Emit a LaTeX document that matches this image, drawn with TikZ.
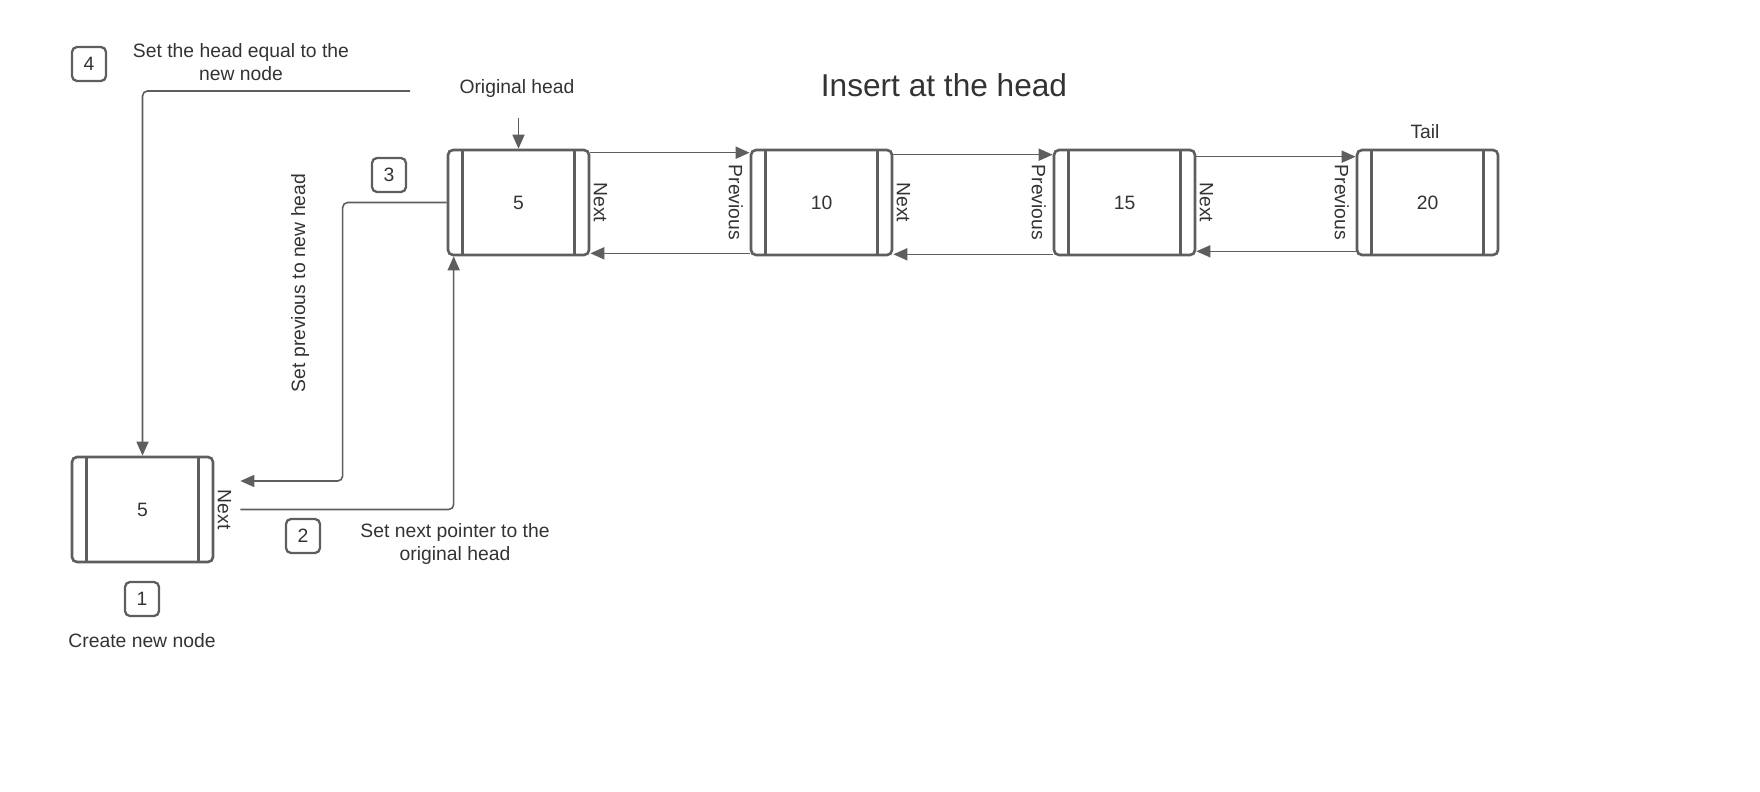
\documentclass[tikz,border=0pt]{standalone}
\usepackage{fontspec}
\setmainfont{Liberation Sans}
\usetikzlibrary{arrows.meta}
\definecolor{linegray}{HTML}{5E5E5E}
\definecolor{textgray}{HTML}{333333}

\begin{document}
\begin{tikzpicture}[
        x=0.2mm, y=-0.2mm,
        font=\fontsize{11}{13}\selectfont, text=textgray,
        listnode/.style={rectangle, rounded corners=1mm, draw=linegray, line width=1.5pt, minimum width=28.2mm, minimum height=21mm, inner sep=0pt,
            path picture={\draw[linegray, line width=1.5pt]
                ([xshift=2.9mm]path picture bounding box.north west) -- ([xshift=2.9mm]path picture bounding box.south west)
                ([xshift=-2.9mm]path picture bounding box.north east) -- ([xshift=-2.9mm]path picture bounding box.south east);}},
        stepbox/.style={rectangle, rounded corners=1mm, draw=linegray, line width=1.3pt, minimum size=6.8mm, inner sep=0pt},
        steptext/.style={align=center, inner sep=0pt},
        ptrlabel/.style={rotate=-90, inner sep=0pt},
        arrow/.style={-{Triangle[length=2.8mm, width=2.4mm]}, draw=linegray, line width=0.9pt}
    ]
    \useasboundingbox (0,0) rectangle (1760,792);

    % Title
    \node[font=\fontsize{18}{20}\selectfont] (title) at (944,85) {Insert at the head};

    % Original list
    \node[listnode] (n5) at (518.5,202.5) {5};
    \node[listnode] (n10) at (821.5,202.5) {10};
    \node[listnode] (n15) at (1124.5,202.5) {15};
    \node[listnode] (n20) at (1427.5,202.5) {20};

    \node (orighead) at (517,89) {Original head};
    \node (tail) at (1425,132) {Tail};

    % Pointer labels
    \node[ptrlabel] at ([xshift=2mm]n5.east) {Next};
    \node[ptrlabel] at ([xshift=-2.8mm]n10.west) {Previous};
    \node[ptrlabel] at ([xshift=2mm]n10.east) {Next};
    \node[ptrlabel] at ([xshift=-2.8mm]n15.west) {Previous};
    \node[ptrlabel] at ([xshift=2mm]n15.east) {Next};
    \node[ptrlabel] at ([xshift=-2.8mm]n20.west) {Previous};

    % New node
    \node[listnode] (new) at (142.5,509.5) {5};
    \node[ptrlabel] at ([xshift=2mm]new.east) {Next};

    % Steps
    \node[stepbox] (s1) at (142,599) {1};
    \node[steptext] (t1) at (142,641) {Create new node};
    \node[stepbox] (s2) at (303,536) {2};
    \node[steptext] (t2) at (455,544) {Set next pointer to the\\original head};
    \node[stepbox] (s3) at (389,175) {3};
    \node[steptext, rotate=90] (t3) at (300,283) {Set previous to new head};
    \node[stepbox] (s4) at (89,64) {4};
    \node[steptext] (t4) at (241,62) {Set the head equal to the\\new node};

    % Arrows between list nodes
    \draw[arrow] ([yshift=-0.8mm]n5.north east) -- ([yshift=-0.8mm]n10.north west);
    \draw[arrow] ([yshift=-1.2mm]n10.north east) -- ([yshift=-1.2mm]n15.north west);
    \draw[arrow] ([yshift=-1.6mm]n15.north east) -- ([yshift=-1.6mm]n20.north west);
    \draw[arrow] ([yshift=0.6mm]n10.south west) -- ([yshift=0.6mm]n5.south east);
    \draw[arrow] ([yshift=0.4mm]n15.south west) -- ([yshift=0.4mm]n10.south east);
    \draw[arrow] ([yshift=1mm]n20.south west) -- ([yshift=1mm]n15.south east);
    \draw[arrow] ([yshift=6.2mm]n5.north) -- (n5.north);

    % Insert steps
    \coordinate (headline) at (410,91);
    \draw[arrow, rounded corners=1mm] (headline) -| (new.north);
    \draw[arrow, rounded corners=1mm] (n5.west) -- ++(-104,0) |- ([xshift=5.2mm, yshift=5.7mm]new.east);
    \draw[arrow, rounded corners=1mm] ([xshift=5.2mm]new.east) -| ([xshift=1.4mm]n5.south west);

\end{tikzpicture}
\end{document}
